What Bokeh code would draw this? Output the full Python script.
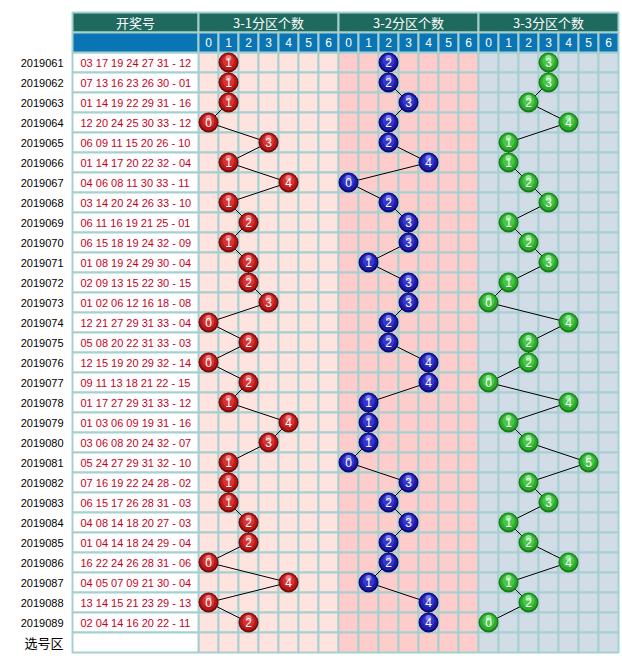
from bokeh.plotting import figure
from bokeh.models import Range1d
from bokeh.core.properties import value
from bokeh.embed import file_html
from bokeh.resources import INLINE

issues = ["2019061", "2019062", "2019063", "2019064", "2019065", "2019066", "2019067",
          "2019068", "2019069", "2019070", "2019071", "2019072", "2019073", "2019074",
          "2019075", "2019076", "2019077", "2019078", "2019079", "2019080", "2019081",
          "2019082", "2019083", "2019084", "2019085", "2019086", "2019087", "2019088",
          "2019089"]
draws = ["03 17 19 24 27 31 - 12", "07 13 16 23 26 30 - 01", "01 14 19 22 29 31 - 16",
         "12 20 24 25 30 33 - 12", "06 09 11 15 20 26 - 10", "01 14 17 20 22 32 - 04",
         "04 06 08 11 30 33 - 11", "03 14 20 24 26 33 - 10", "06 11 16 19 21 25 - 01",
         "06 15 18 19 24 32 - 09", "01 08 19 24 29 30 - 04", "02 09 13 15 22 30 - 15",
         "01 02 06 12 16 18 - 08", "12 21 27 29 31 33 - 04", "05 08 20 22 31 33 - 03",
         "12 15 19 20 29 32 - 14", "09 11 13 18 21 22 - 15", "01 17 27 29 31 33 - 12",
         "01 03 06 09 19 31 - 16", "03 06 08 20 24 32 - 07", "05 24 27 29 31 32 - 10",
         "07 16 19 22 24 28 - 02", "06 15 17 26 28 31 - 03", "04 08 14 18 20 27 - 03",
         "01 04 14 18 24 29 - 04", "16 22 24 26 28 31 - 06", "04 05 07 09 21 30 - 04",
         "13 14 15 21 23 29 - 13", "02 04 14 16 20 22 - 11"]
zone1 = [1, 1, 1, 0, 3, 1, 4, 1, 2, 1, 2, 2, 3, 0, 2, 0, 2, 1, 4, 3, 1, 1, 1, 2, 2, 0, 4, 0, 2]
zone2 = [2, 2, 3, 2, 2, 4, 0, 2, 3, 3, 1, 3, 3, 2, 2, 4, 4, 1, 1, 1, 0, 3, 2, 3, 2, 2, 1, 4, 4]
zone3 = [3, 3, 2, 4, 1, 1, 2, 3, 1, 2, 3, 1, 0, 4, 2, 2, 0, 4, 1, 2, 5, 2, 3, 1, 2, 4, 1, 2, 0]
zone_titles = ["3-1分区个数", "3-2分区个数", "3-3分区个数"]
count_labels = ["0", "1", "2", "3", "4", "5", "6"]
number_title = "开奖号"
pick_row_label = "选号区"

GRID = "#a6d0d0"
ZONE_FILL = ["#ffe3df", "#ffcccc", "#d2dce6"]
HEAD1 = "#1f6a5f"
HEAD2 = "#0a75b4"
CJK = "Noto Sans CJK SC"
LAT = "Liberation Sans"

# one cell = 20 px
p = figure(width=622, height=658, x_range=Range1d(-10.4, 20.7), y_range=Range1d(29.8, -3.1),
           output_backend="svg", toolbar_location=None, min_border=0,
           min_border_left=0, min_border_right=0, min_border_top=0, min_border_bottom=0)
p.xaxis.visible = False
p.yaxis.visible = False
p.xgrid.visible = False
p.ygrid.visible = False
p.outline_line_color = None
p.background_fill_color = "white"
p.border_fill_color = "white"

nrows = len(issues) + 1
ncols = 7 * len(zone_titles)
NUM_L, NUM_R = -6.8, -0.5
num_cx = (NUM_L + NUM_R) / 2
num_w = NUM_R - NUM_L

# count cells
cx, cy, cf = [], [], []
for r in range(nrows):
    for c in range(ncols):
        cx.append(c); cy.append(r); cf.append(ZONE_FILL[c // 7])
p.rect(x=cx, y=cy, width=1, height=1, fill_color=cf, line_color=GRID, line_width=2)

# number column cells
p.rect(x=[num_cx] * nrows, y=list(range(nrows)), width=num_w, height=1,
       fill_color="white", line_color=GRID, line_width=2)

# header row 1
h1x = [num_cx] + [7 * z + 3 for z in range(len(zone_titles))]
h1w = [num_w] + [7] * len(zone_titles)
p.rect(x=h1x, y=[-2] * len(h1x), width=h1w, height=1, fill_color=HEAD1,
       line_color=GRID, line_width=2)
p.text(x=h1x, y=[-2] * len(h1x), text=[number_title] + zone_titles, text_color="white",
       text_align="center", text_baseline="middle", text_font=value(CJK),
       text_font_size="13px")

# header row 2
p.rect(x=[num_cx], y=[-1], width=num_w, height=1, fill_color=HEAD2, line_color=GRID, line_width=2)
h2x = list(range(ncols))
p.rect(x=h2x, y=[-1] * ncols, width=1, height=1, fill_color=HEAD2, line_color=GRID, line_width=2)
p.text(x=h2x, y=[-1] * ncols, text=count_labels * len(zone_titles), text_color="white",
       text_align="center", text_baseline="middle", text_font=value(LAT),
       text_font_size="12px")

# issue labels
rows = list(range(len(issues)))
p.text(x=[-7.25] * len(issues), y=rows, text=issues, text_color="black",
       text_align="right", text_baseline="middle", text_font=value(LAT),
       text_font_size="11px")
p.text(x=[-7.25], y=[len(issues)], text=[pick_row_label], text_color="black",
       text_align="right", text_baseline="middle", text_font=value(CJK),
       text_font_size="13px")

# draw numbers
p.text(x=[-6.4] * len(draws), y=rows, text=draws, text_color="#c8001e",
       text_align="left", text_baseline="middle", text_font=value(LAT),
       text_font_size="11px")

ball_styles = [
    ("#7a0a0a", "#b81a1a", "#d63232", "#f49090"),
    ("#0a0a70", "#1e1eaa", "#3636cc", "#8c8cf2"),
    ("#1a7a1a", "#2eaa2e", "#46c846", "#a0f2a0"),
]

for z, counts in enumerate([zone1, zone2, zone3]):
    xs = [7 * z + v for v in counts]
    p.line(x=xs, y=rows, line_color="black", line_width=1)
    edge, mid, light, hi = ball_styles[z]
    p.scatter(x=xs, y=rows, size=20, fill_color=edge, line_color=None)
    p.scatter(x=xs, y=[r - 0.03 for r in rows], size=17, fill_color=mid, line_color=None)
    p.scatter(x=xs, y=[r - 0.08 for r in rows], size=12, fill_color=light, line_color=None)
    p.scatter(x=xs, y=[r - 0.22 for r in rows], size=6, fill_color=hi, fill_alpha=0.8,
              line_color=None)
    p.text(x=xs, y=rows, text=[str(v) for v in counts], text_color="white",
           text_align="center", text_baseline="middle", text_font=value(LAT),
           text_font_size="12px")

open("out.html", "w").write(file_html(p, INLINE))
